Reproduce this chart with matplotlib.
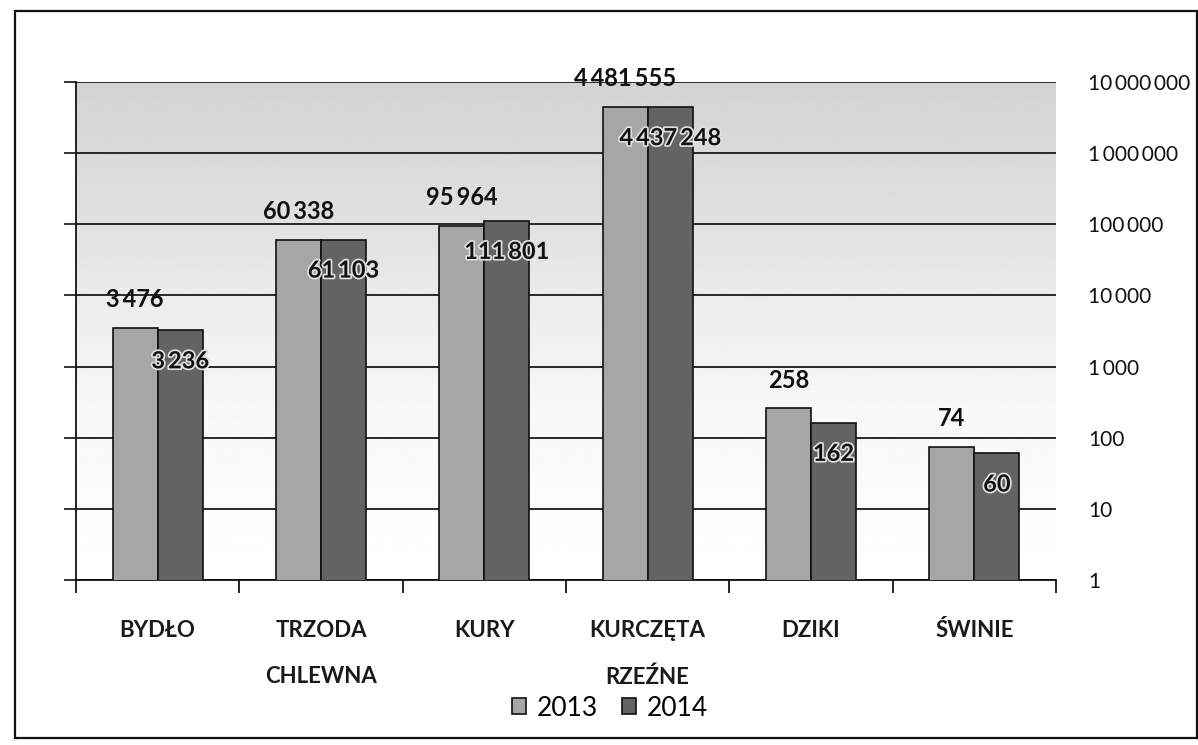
import matplotlib
matplotlib.use('Agg')
import matplotlib.pyplot as plt
import matplotlib.patheffects as pe
from matplotlib.patches import Rectangle
import numpy as np

plt.rcParams['font.family'] = ['Lato', 'DejaVu Sans']

# data
categories = ['BYDŁO', 'TRZODA\nCHLEWNA', 'KURY', 'KURCZĘTA\nRZEŹNE', 'DZIKI', 'ŚWINIE']
values_2013 = [3476, 60338, 95964, 4481555, 258, 74]
values_2014 = [3236, 61103, 111801, 4437248, 162, 60]
series_names = ['2013', '2014']
y_ticks = [1, 10, 100, 1000, 10000, 100000, 1000000, 10000000]
y_tick_labels = ['1', '10', '100', '1\u2009000', '10\u2009000', '100\u2009000',
                 '1\u2009000\u2009000', '10\u2009000\u2009000']

W, H = 1198, 745
fig = plt.figure(figsize=(W / 100, H / 100), dpi=100)

# outer frame of the chart
fig.patches.append(Rectangle((15 / W, 1 - 738 / H), (1197 - 15) / W, (738 - 11) / H,
                             transform=fig.transFigure, fill=False,
                             edgecolor='#111111', linewidth=1.6))

rect = [76 / W, 1 - 580 / H, (1056 - 76) / W, (580 - 82) / H]

# gray shaded plot background, darker at the top
bg = fig.add_axes(rect, zorder=0)
yy = np.linspace(0, 1, 200)
shade = np.interp(yy, [0, 0.35, 0.55, 0.72, 1.0], [1.0, 0.97, 0.93, 0.88, 0.83])
bg.imshow(shade[::-1, None], cmap='gray', vmin=0, vmax=1, aspect='auto',
          extent=[0, 1, 0, 1])
bg.axis('off')

ax = fig.add_axes(rect, zorder=1)
ax.patch.set_alpha(0)

x = np.arange(len(categories))
w = 0.276
b1 = ax.bar(x - w / 2, values_2013, w, color='#a6a6a6', edgecolor='#111111',
            linewidth=1.2, label=series_names[0], zorder=3)
b2 = ax.bar(x + w / 2, values_2014, w, color='#636363', edgecolor='#111111',
            linewidth=1.2, label=series_names[1], zorder=3)

ax.set_yscale('log')
ax.set_ylim(1, 1e7)
ax.set_xlim(-0.5, len(categories) - 0.5)

ax.set_yticks(y_ticks)
ax.set_yticklabels(y_tick_labels)
ax.yaxis.set_minor_locator(matplotlib.ticker.NullLocator())
ax.tick_params(axis='y', left=True, right=False, labelleft=False, labelright=True,
               direction='out', length=9, width=1.2, pad=14, labelsize=15,
               colors='#111111')
ax.grid(axis='y', which='major', color='#1a1a1a', linewidth=1.3, zorder=1)
ax.set_axisbelow(True)

# category borders as ticks, names as minor tick labels
ax.set_xticks(np.arange(len(categories) + 1) - 0.5)
ax.set_xticklabels([])
ax.tick_params(axis='x', which='major', direction='out', length=9, width=1.2)
ax.set_xticks(x, minor=True)
ax.set_xticklabels(categories, minor=True, fontweight='bold', fontsize=16,
                   linespacing=2.45, color='#1a1a1a')
ax.tick_params(axis='x', which='minor', length=0, pad=29)

for s in ['top', 'right']:
    ax.spines[s].set_visible(False)
for s in ['left', 'bottom']:
    ax.spines[s].set_linewidth(1.3)
    ax.spines[s].set_color('#111111')


def fmt(v):
    return f'{v:,}'.replace(',', '\u2009')


halo = [pe.withStroke(linewidth=2.5, foreground='#e0e0e0')]
for bar, v in zip(b1, values_2013):
    ax.annotate(fmt(v), (bar.get_x() + bar.get_width() / 2, v),
                xytext=(0, 12), textcoords='offset points', ha='center', va='bottom',
                fontsize=17, fontweight='bold', color='#111111', zorder=5)
for bar, v in zip(b2, values_2014):
    ax.annotate(fmt(v), (bar.get_x() + bar.get_width() / 2, v),
                xytext=(0, -22), textcoords='offset points', ha='center', va='center',
                fontsize=17, fontweight='bold', color='#111111', zorder=5,
                path_effects=halo)

fig.legend(handles=[b1, b2], labels=series_names, loc='center',
           bbox_to_anchor=(610 / W, 1 - 708 / H), ncol=2, frameon=False,
           fontsize=19, handlelength=0.55, handleheight=0.55, handletextpad=0.4,
           columnspacing=0.9)

fig.savefig('out.png', dpi=100)
